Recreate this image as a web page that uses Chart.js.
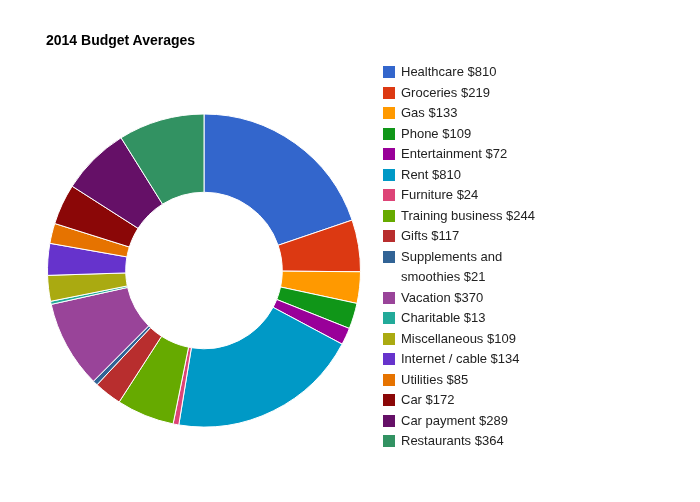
<!DOCTYPE html>
<html>
<head>
<meta charset="utf-8">
<script src="https://cdn.jsdelivr.net/npm/chart.js@4"></script>
<style>
  html, body { margin: 0; padding: 0; background: #fff; }
  #wrap { position: relative; width: 700px; height: 502px; }
  #c { position: absolute; left: 0; top: 0; }
  #title { position: absolute; left: 46px; top: 32px; font: bold 14px "Liberation Sans", Arial, sans-serif; color: #000; }
  #legend { position: absolute; left: 383px; top: 62px; font: 13px "Liberation Sans", Arial, sans-serif; color: #222; }
  .item { position: relative; padding-left: 18px; line-height: 20.5px; width: 145px; }
  .sw { position: absolute; left: 0; top: 4px; width: 12px; height: 12px; }
</style>
</head>
<body>
<div id="wrap">
  <canvas id="c" width="700" height="502"></canvas>
  <div id="title">2014 Budget Averages</div>
  <div id="legend"></div>
</div>
<script>
const categories = ["Healthcare","Groceries","Gas","Phone","Entertainment","Rent","Furniture","Training business","Gifts","Supplements and smoothies","Vacation","Charitable","Miscellaneous","Internet / cable","Utilities","Car","Car payment","Restaurants"];
const values = [810,219,133,109,72,810,24,244,117,21,370,13,109,134,85,172,289,364];
const colors = ["#3366cc","#dc3912","#ff9900","#109618","#990099","#0099c6","#dd4477","#66aa00","#b82e2e","#316395","#994499","#22aa99","#aaaa11","#6633cc","#e67300","#8b0707","#651067","#329262"];

const leg = document.getElementById('legend');
categories.forEach((c, i) => {
  const d = document.createElement('div');
  d.className = 'item';
  d.innerHTML = '<span class="sw" style="background:' + colors[i] + '"></span>' + c + ' $' + values[i];
  leg.appendChild(d);
});

new Chart(document.getElementById('c'), {
  type: 'doughnut',
  data: {
    labels: categories,
    datasets: [{ data: values, backgroundColor: colors, borderColor: '#ffffff', borderWidth: 1 }]
  },
  options: {
    responsive: false,
    animation: false,
    cutout: '50%',
    layout: { padding: { left: 47, right: 339, top: 113, bottom: 74 } },
    plugins: { legend: { display: false }, tooltip: { enabled: false }, title: { display: false } }
  }
});
</script>
</body>
</html>
